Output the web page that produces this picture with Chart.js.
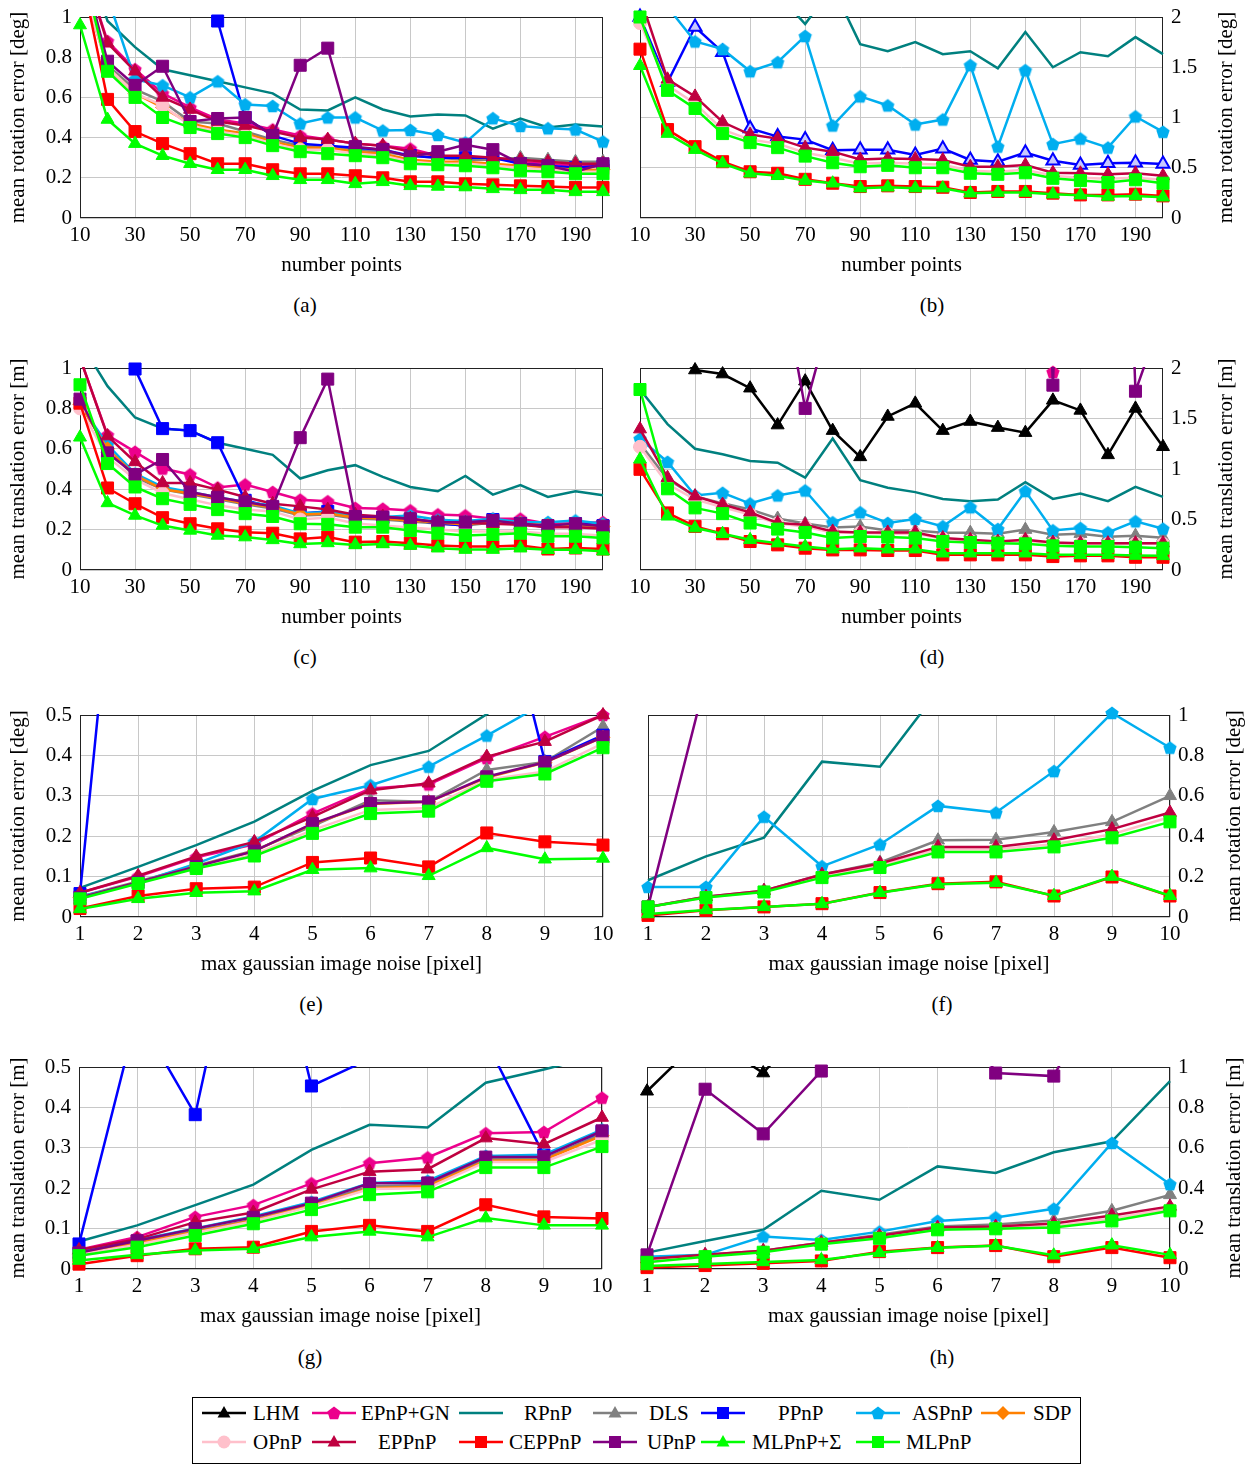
<!DOCTYPE html>
<html lang="en">
<head>
<meta charset="utf-8">
<script src="https://cdn.jsdelivr.net/npm/chart.js@4.4.1/dist/chart.umd.min.js"></script>
<style>
  body { margin: 0; background: #fff; width: 1247px; height: 1472px; position: relative; overflow: hidden;
         font-family: 'Liberation Serif', 'Times New Roman', serif; color: #000; }
  canvas { position: absolute; }
  .cap { position: absolute; font-size: 21px; transform: translate(-50%, -50%); white-space: nowrap; }
  #legend { position: absolute; left: 192px; top: 1397px; width: 887px; height: 65px; border: 1px solid #000; }
  .lg-txt { position: absolute; font-size: 21px; line-height: 24px; transform: translateY(-50%); white-space: nowrap; }
</style>
</head>
<body>
<div id="legend"></div>
<script>
    var FONT = "'Liberation Serif', 'Times New Roman', serif";

    // x values and tick labels
    var pointCounts = [10, 20, 30, 40, 50, 60, 70, 80, 90, 100, 110, 120, 130, 140, 150, 160, 170, 180, 190, 200];
    var noiseLevels = [1, 2, 3, 4, 5, 6, 7, 8, 9, 10];
    var pointTicks = [10, 30, 50, 70, 90, 110, 130, 150, 170, 190];
    var noiseTicks = [1, 2, 3, 4, 5, 6, 7, 8, 9, 10];
    var ticksTo1 = [0, 0.2, 0.4, 0.6, 0.8, 1];
    var ticksTo2 = [0, 0.5, 1, 1.5, 2];
    var ticksToHalf = [0, 0.1, 0.2, 0.3, 0.4, 0.5];

    var methodNames = ['LHM', 'EPnP+GN', 'RPnP', 'DLS', 'PPnP', 'ASPnP', 'SDP', 'OPnP', 'EPPnP', 'CEPPnP', 'UPnP', 'MLPnP+Σ', 'MLPnP'];
    var methodColors = ['#000000', '#ec008c', '#00807f', '#808080', '#0000ff', '#00aeef', '#ff8000', '#ffc0cb', '#bf0040', '#ff0000', '#800080', '#00ff00', '#00ff00'];
    var methodMarkers = ['triangle', 'pentagon', null, 'triangle', 'rect', 'pentagon', 'rectRot', 'circle', 'triangle', 'rect', 'rect', 'triangle', 'rect'];

    // (a) rotation error vs number of points
    var a_EPnPGN = [1.3, 0.88, 0.74, 0.62, 0.55, 0.49, 0.47, 0.44, 0.41, 0.39, 0.37, 0.36, 0.345, 0.31, 0.30, 0.30, 0.28, 0.27, 0.26, 0.26];
    var a_RPnP = [1.4, 0.98, 0.85, 0.74, 0.71, 0.68, 0.65, 0.62, 0.54, 0.535, 0.60, 0.54, 0.505, 0.515, 0.51, 0.445, 0.495, 0.45, 0.465, 0.455];
    var a_DLS = [1.25, 0.76, 0.64, 0.58, 0.48, 0.47, 0.43, 0.39, 0.36, 0.36, 0.34, 0.33, 0.31, 0.30, 0.29, 0.29, 0.30, 0.29, 0.28, 0.28];
    var a_PPnP = [2.2, 1.9, 1.6, 1.4, 1.2, 0.98, 0.50, 0.41, 0.37, 0.36, 0.35, 0.34, 0.31, 0.30, 0.30, 0.30, 0.27, 0.26, 0.25, 0.26];
    var a_ASPnP = [1.6, 1.1, 0.69, 0.66, 0.60, 0.68, 0.565, 0.557, 0.47, 0.50, 0.50, 0.435, 0.438, 0.413, 0.375, 0.496, 0.458, 0.446, 0.44, 0.38];
    var a_SDP = [1.2, 0.75, 0.62, 0.55, 0.47, 0.44, 0.42, 0.38, 0.35, 0.35, 0.33, 0.32, 0.29, 0.28, 0.28, 0.27, 0.26, 0.25, 0.24, 0.24];
    var a_OPnP = [1.2, 0.75, 0.62, 0.56, 0.46, 0.43, 0.41, 0.37, 0.34, 0.34, 0.32, 0.31, 0.28, 0.27, 0.27, 0.26, 0.25, 0.24, 0.23, 0.23];
    var a_EPPnP = [1.3, 0.87, 0.73, 0.60, 0.54, 0.48, 0.46, 0.43, 0.40, 0.39, 0.37, 0.36, 0.33, 0.31, 0.31, 0.30, 0.29, 0.28, 0.27, 0.27];
    var a_CEPPnP = [1.25, 0.59, 0.43, 0.37, 0.32, 0.27, 0.27, 0.24, 0.22, 0.22, 0.21, 0.20, 0.18, 0.18, 0.17, 0.165, 0.16, 0.157, 0.152, 0.152];
    var a_UPnP = [1.3, 0.78, 0.66, 0.755, 0.48, 0.495, 0.50, 0.41, 0.76, 0.845, 0.355, 0.34, 0.305, 0.33, 0.364, 0.34, 0.27, 0.26, 0.23, 0.27];
    var a_MLPnPS = [0.96, 0.49, 0.37, 0.31, 0.27, 0.24, 0.24, 0.21, 0.19, 0.19, 0.17, 0.18, 0.16, 0.157, 0.154, 0.145, 0.14, 0.14, 0.13, 0.13];
    var a_MLPnP = [1.3, 0.73, 0.60, 0.50, 0.45, 0.42, 0.40, 0.36, 0.33, 0.32, 0.31, 0.30, 0.27, 0.265, 0.26, 0.25, 0.235, 0.23, 0.22, 0.22];

    // (b) rotation error vs number of points, planar
    var b_RPnP = [2.6, 2.4, 2.3, 2.25, 2.2, 2.23, 1.93, 2.3, 1.73, 1.66, 1.75, 1.63, 1.66, 1.49, 1.85, 1.5, 1.65, 1.61, 1.8, 1.63];
    var b_PPnP = [2.0, 1.35, 1.9, 1.65, 0.89, 0.81, 0.78, 0.675, 0.68, 0.68, 0.626, 0.69, 0.577, 0.56, 0.65, 0.57, 0.527, 0.544, 0.55, 0.537];
    var b_ASPnP = [2.6, 2.1, 1.756, 1.68, 1.46, 1.55, 1.81, 0.92, 1.21, 1.12, 0.93, 0.98, 1.52, 0.71, 1.47, 0.735, 0.79, 0.70, 1.01, 0.857];
    var b_OPnP = [1.94, 1.32, 1.14, 0.88, 0.78, 0.74, 0.65, 0.60, 0.54, 0.55, 0.54, 0.53, 0.47, 0.46, 0.48, 0.42, 0.40, 0.39, 0.40, 0.38];
    var b_EPPnP = [2.2, 1.38, 1.21, 0.955, 0.83, 0.79, 0.70, 0.66, 0.583, 0.593, 0.587, 0.577, 0.51, 0.51, 0.527, 0.45, 0.445, 0.435, 0.445, 0.42];
    var b_CEPPnP = [1.68, 0.88, 0.71, 0.56, 0.46, 0.445, 0.385, 0.346, 0.313, 0.32, 0.313, 0.306, 0.254, 0.264, 0.264, 0.247, 0.23, 0.23, 0.237, 0.22];
    var b_MLPnPS = [1.515, 0.84, 0.68, 0.544, 0.445, 0.42, 0.372, 0.346, 0.297, 0.306, 0.297, 0.297, 0.247, 0.254, 0.254, 0.237, 0.227, 0.214, 0.22, 0.207];
    var b_MLPnP = [2.0, 1.27, 1.09, 0.84, 0.75, 0.70, 0.616, 0.55, 0.51, 0.524, 0.50, 0.50, 0.445, 0.435, 0.45, 0.395, 0.372, 0.353, 0.38, 0.346];

    // (c) translation error vs number of points
    var c_EPnPGN = [1.05, 0.668, 0.585, 0.502, 0.473, 0.408, 0.423, 0.386, 0.348, 0.34, 0.307, 0.303, 0.295, 0.275, 0.27, 0.254, 0.254, 0.229, 0.232, 0.237];
    var c_RPnP = [1.13, 0.91, 0.755, 0.70, 0.69, 0.63, 0.60, 0.57, 0.453, 0.494, 0.519, 0.461, 0.411, 0.39, 0.466, 0.373, 0.42, 0.362, 0.39, 0.37];
    var c_DLS = [0.82, 0.60, 0.46, 0.40, 0.375, 0.35, 0.325, 0.305, 0.27, 0.275, 0.255, 0.25, 0.24, 0.23, 0.22, 0.235, 0.225, 0.215, 0.22, 0.21];
    var c_PPnP = [2.0, 1.6, 0.995, 0.70, 0.69, 0.63, 0.345, 0.31, 0.28, 0.29, 0.26, 0.26, 0.25, 0.23, 0.22, 0.25, 0.23, 0.21, 0.23, 0.22];
    var c_ASPnP = [0.82, 0.62, 0.477, 0.411, 0.386, 0.36, 0.337, 0.32, 0.28, 0.287, 0.27, 0.262, 0.27, 0.249, 0.242, 0.254, 0.237, 0.237, 0.245, 0.229];
    var c_SDP = [0.82, 0.60, 0.47, 0.40, 0.38, 0.355, 0.33, 0.31, 0.275, 0.28, 0.26, 0.255, 0.245, 0.235, 0.225, 0.24, 0.23, 0.22, 0.225, 0.215];
    var c_OPnP = [0.80, 0.56, 0.45, 0.38, 0.35, 0.32, 0.30, 0.29, 0.25, 0.26, 0.23, 0.22, 0.21, 0.20, 0.19, 0.19, 0.19, 0.18, 0.18, 0.17];
    var c_EPPnP = [1.05, 0.663, 0.535, 0.431, 0.431, 0.398, 0.361, 0.328, 0.315, 0.299, 0.274, 0.265, 0.254, 0.237, 0.234, 0.229, 0.224, 0.212, 0.212, 0.204];
    var c_CEPPnP = [0.826, 0.406, 0.328, 0.259, 0.229, 0.204, 0.187, 0.182, 0.154, 0.163, 0.138, 0.141, 0.133, 0.121, 0.116, 0.116, 0.121, 0.104, 0.109, 0.104];
    var c_UPnP = [0.846, 0.58, 0.473, 0.547, 0.386, 0.36, 0.337, 0.315, 0.655, 0.945, 0.265, 0.262, 0.254, 0.237, 0.237, 0.245, 0.229, 0.22, 0.229, 0.217];
    var c_MLPnPS = [0.657, 0.332, 0.27, 0.22, 0.196, 0.171, 0.163, 0.149, 0.129, 0.134, 0.124, 0.129, 0.121, 0.108, 0.101, 0.101, 0.108, 0.10, 0.10, 0.093];
    var c_MLPnP = [0.917, 0.527, 0.411, 0.353, 0.325, 0.299, 0.279, 0.265, 0.229, 0.226, 0.212, 0.212, 0.196, 0.182, 0.171, 0.176, 0.182, 0.167, 0.167, 0.159];

    // (d) translation error vs number of points, planar
    var d_LHM = [2.5, 2.2, 1.98, 1.94, 1.80, 1.435, 1.87, 1.38, 1.12, 1.52, 1.65, 1.38, 1.47, 1.41, 1.36, 1.68, 1.58, 1.14, 1.60, 1.22];
    var d_EPnPGN = [9, 9, 9, 9, 9, 9, 9, 9, 9, 9, 9, 9, 9, 9, 9, 1.96, 9, 9, 9, 9];
    var d_RPnP = [1.787, 1.445, 1.20, 1.146, 1.08, 1.063, 0.914, 1.302, 0.89, 0.814, 0.771, 0.704, 0.681, 0.698, 0.87, 0.704, 0.757, 0.681, 0.824, 0.724];
    var d_DLS = [1.25, 0.90, 0.73, 0.66, 0.60, 0.51, 0.46, 0.42, 0.43, 0.39, 0.39, 0.37, 0.37, 0.36, 0.40, 0.35, 0.36, 0.33, 0.34, 0.32];
    var d_ASPnP = [1.30, 1.07, 0.738, 0.764, 0.658, 0.738, 0.787, 0.472, 0.571, 0.465, 0.505, 0.432, 0.621, 0.405, 0.781, 0.392, 0.415, 0.372, 0.482, 0.409];
    var d_OPnP = [1.22, 0.85, 0.70, 0.62, 0.55, 0.46, 0.43, 0.37, 0.37, 0.36, 0.36, 0.31, 0.29, 0.28, 0.29, 0.265, 0.26, 0.26, 0.26, 0.26];
    var d_EPPnP = [1.395, 0.914, 0.731, 0.648, 0.571, 0.465, 0.449, 0.382, 0.372, 0.372, 0.372, 0.316, 0.299, 0.282, 0.299, 0.272, 0.266, 0.266, 0.266, 0.266];
    var d_CEPPnP = [0.997, 0.565, 0.432, 0.359, 0.282, 0.249, 0.216, 0.199, 0.199, 0.193, 0.193, 0.15, 0.15, 0.15, 0.15, 0.133, 0.14, 0.14, 0.126, 0.126];
    var d_UPnP = [4, 4, 4, 4, 4, 3.1, 1.6, 2.6, 4, 4, 4, 4, 4, 4, 9, 1.83, 9, 9, 1.77, 2.54];
    var d_MLPnPS = [1.096, 0.532, 0.415, 0.359, 0.299, 0.266, 0.233, 0.206, 0.216, 0.206, 0.206, 0.166, 0.166, 0.166, 0.166, 0.15, 0.15, 0.15, 0.143, 0.14];
    var d_MLPnP = [1.787, 0.804, 0.615, 0.558, 0.465, 0.405, 0.372, 0.316, 0.332, 0.326, 0.316, 0.282, 0.272, 0.266, 0.259, 0.239, 0.233, 0.233, 0.226, 0.216];

    // (e) rotation error vs image noise
    var e_EPnPGN = [0.06, 0.10, 0.148, 0.18, 0.256, 0.318, 0.328, 0.393, 0.446, 0.50];
    var e_RPnP = [0.072, 0.124, 0.178, 0.236, 0.312, 0.376, 0.411, 0.502, 0.6, 0.7];
    var e_DLS = [0.05, 0.088, 0.127, 0.165, 0.225, 0.289, 0.285, 0.364, 0.384, 0.471];
    var e_PPnP = [0.058, 1.5, 1.2, 1.1, 1.0, 1.0, 1.0, 0.96, 0.385, 0.45];
    var e_ASPnP = [0.05, 0.085, 0.132, 0.186, 0.292, 0.326, 0.372, 0.449, 0.53, 0.56];
    var e_SDP = [0.048, 0.086, 0.125, 0.163, 0.23, 0.28, 0.285, 0.345, 0.382, 0.445];
    var e_OPnP = [0.046, 0.084, 0.122, 0.155, 0.215, 0.265, 0.27, 0.34, 0.36, 0.43];
    var e_EPPnP = [0.06, 0.102, 0.15, 0.186, 0.248, 0.314, 0.331, 0.397, 0.434, 0.50];
    var e_CEPPnP = [0.021, 0.052, 0.07, 0.074, 0.135, 0.146, 0.124, 0.208, 0.186, 0.178];
    var e_UPnP = [0.048, 0.086, 0.125, 0.163, 0.231, 0.281, 0.285, 0.347, 0.383, 0.446];
    var e_MLPnPS = [0.02, 0.045, 0.06, 0.064, 0.117, 0.121, 0.102, 0.171, 0.143, 0.145];
    var e_MLPnP = [0.045, 0.083, 0.12, 0.151, 0.207, 0.256, 0.262, 0.336, 0.354, 0.419];

    // (f) rotation error vs image noise, planar
    var f_RPnP = [0.182, 0.30, 0.393, 0.769, 0.744, 1.12, 1.3, 1.4, 1.5, 1.6];
    var f_DLS = [0.05, 0.10, 0.13, 0.21, 0.27, 0.38, 0.383, 0.421, 0.471, 0.60];
    var f_ASPnP = [0.149, 0.149, 0.496, 0.251, 0.359, 0.55, 0.517, 0.722, 1.01, 0.838];
    var f_OPnP = [0.05, 0.097, 0.126, 0.20, 0.255, 0.335, 0.335, 0.36, 0.41, 0.495];
    var f_EPPnP = [0.05, 0.10, 0.13, 0.21, 0.265, 0.347, 0.347, 0.38, 0.435, 0.517];
    var f_CEPPnP = [0.008, 0.033, 0.05, 0.066, 0.121, 0.165, 0.174, 0.104, 0.198, 0.104];
    var f_UPnP = [0.05, 1.18, 1.5, 1.5, 1.5, 1.5, 1.5, 1.5, 1.5, 1.5];
    var f_MLPnPS = [0.015, 0.035, 0.05, 0.065, 0.12, 0.162, 0.17, 0.105, 0.20, 0.105];
    var f_MLPnP = [0.05, 0.096, 0.124, 0.195, 0.245, 0.322, 0.322, 0.347, 0.392, 0.471];

    // (g) translation error vs image noise
    var g_EPnPGN = [0.048, 0.079, 0.129, 0.158, 0.212, 0.262, 0.276, 0.336, 0.339, 0.424];
    var g_RPnP = [0.068, 0.108, 0.158, 0.209, 0.295, 0.357, 0.35, 0.461, 0.494, 0.53];
    var g_DLS = [0.038, 0.066, 0.095, 0.122, 0.16, 0.205, 0.208, 0.272, 0.272, 0.335];
    var g_PPnP = [0.062, 0.63, 0.382, 1.04, 0.453, 0.52, 0.60, 0.565, 0.282, 0.34];
    var g_ASPnP = [0.042, 0.072, 0.10, 0.13, 0.166, 0.213, 0.218, 0.28, 0.283, 0.345];
    var g_SDP = [0.037, 0.064, 0.092, 0.12, 0.157, 0.20, 0.205, 0.268, 0.27, 0.33];
    var g_OPnP = [0.036, 0.06, 0.09, 0.118, 0.155, 0.198, 0.20, 0.265, 0.265, 0.32];
    var g_EPPnP = [0.047, 0.074, 0.116, 0.14, 0.197, 0.241, 0.247, 0.324, 0.309, 0.375];
    var g_CEPPnP = [0.012, 0.033, 0.05, 0.054, 0.093, 0.108, 0.093, 0.159, 0.129, 0.125];
    var g_UPnP = [0.04, 0.07, 0.10, 0.128, 0.163, 0.212, 0.213, 0.277, 0.278, 0.342];
    var g_MLPnPS = [0.021, 0.035, 0.046, 0.05, 0.079, 0.093, 0.079, 0.126, 0.108, 0.108];
    var g_MLPnP = [0.033, 0.054, 0.083, 0.112, 0.147, 0.184, 0.191, 0.251, 0.251, 0.303];

    // (h) translation error vs image noise, planar
    var h_LHM = [0.88, 1.16, 0.97, 1.3, 1.5, 1.5, 1.5, 1.5, 1.5, 1.5];
    var h_RPnP = [0.081, 0.139, 0.194, 0.387, 0.343, 0.508, 0.475, 0.578, 0.632, 0.93];
    var h_DLS = [0.05, 0.07, 0.09, 0.13, 0.17, 0.21, 0.22, 0.24, 0.288, 0.367];
    var h_ASPnP = [0.061, 0.07, 0.161, 0.144, 0.185, 0.238, 0.255, 0.298, 0.624, 0.42];
    var h_OPnP = [0.045, 0.065, 0.087, 0.127, 0.158, 0.20, 0.204, 0.212, 0.25, 0.298];
    var h_EPPnP = [0.05, 0.07, 0.09, 0.13, 0.165, 0.205, 0.21, 0.225, 0.265, 0.31];
    var h_CEPPnP = [0.007, 0.017, 0.028, 0.04, 0.086, 0.106, 0.116, 0.061, 0.106, 0.056];
    var h_UPnP = [0.07, 0.89, 0.669, 0.98, 1.5, 1.5, 0.97, 0.955, 1.5, 1.5];
    var h_MLPnPS = [0.015, 0.025, 0.035, 0.045, 0.08, 0.105, 0.115, 0.068, 0.118, 0.07];
    var h_MLPnP = [0.033, 0.061, 0.083, 0.123, 0.152, 0.194, 0.199, 0.205, 0.238, 0.288];

    var rotTitle = 'mean rotation error [deg]';
    var transTitle = 'mean translation error [m]';

    // box = [plotLeft, plotTop, plotRight, plotBottom] in page pixels
    var panels = [
        { box: [80, 17, 603, 218], side: 'left', x: pointCounts, xTicks: pointTicks, yTicks: ticksTo1, xTitle: 'number points', yTitle: rotTitle, titleX: 18, cap: ['(a)', 305, 305],
          series: { 'EPnP+GN': a_EPnPGN, 'RPnP': a_RPnP, 'DLS': a_DLS, 'PPnP': a_PPnP, 'ASPnP': a_ASPnP, 'SDP': a_SDP, 'OPnP': a_OPnP, 'EPPnP': a_EPPnP, 'CEPPnP': a_CEPPnP, 'UPnP': a_UPnP, 'MLPnP+Σ': a_MLPnPS, 'MLPnP': a_MLPnP } },
        { box: [640, 17, 1163, 218], side: 'right', x: pointCounts, xTicks: pointTicks, yTicks: ticksTo2, xTitle: 'number points', yTitle: rotTitle, titleX: 1226, cap: ['(b)', 932, 305],
          markerOverride: { 'PPnP': 'triangle' },
          series: { 'RPnP': b_RPnP, 'PPnP': b_PPnP, 'ASPnP': b_ASPnP, 'OPnP': b_OPnP, 'EPPnP': b_EPPnP, 'CEPPnP': b_CEPPnP, 'MLPnP+Σ': b_MLPnPS, 'MLPnP': b_MLPnP } },
        { box: [80, 368, 603, 570], side: 'left', x: pointCounts, xTicks: pointTicks, yTicks: ticksTo1, xTitle: 'number points', yTitle: transTitle, titleX: 18, cap: ['(c)', 305, 657],
          series: { 'EPnP+GN': c_EPnPGN, 'RPnP': c_RPnP, 'DLS': c_DLS, 'PPnP': c_PPnP, 'ASPnP': c_ASPnP, 'SDP': c_SDP, 'OPnP': c_OPnP, 'EPPnP': c_EPPnP, 'CEPPnP': c_CEPPnP, 'UPnP': c_UPnP, 'MLPnP+Σ': c_MLPnPS, 'MLPnP': c_MLPnP } },
        { box: [640, 368, 1163, 570], side: 'right', x: pointCounts, xTicks: pointTicks, yTicks: ticksTo2, xTitle: 'number points', yTitle: transTitle, titleX: 1226, cap: ['(d)', 932, 657],
          series: { 'LHM': d_LHM, 'EPnP+GN': d_EPnPGN, 'RPnP': d_RPnP, 'DLS': d_DLS, 'ASPnP': d_ASPnP, 'OPnP': d_OPnP, 'EPPnP': d_EPPnP, 'CEPPnP': d_CEPPnP, 'UPnP': d_UPnP, 'MLPnP+Σ': d_MLPnPS, 'MLPnP': d_MLPnP } },
        { box: [80, 715, 603, 917], side: 'left', x: noiseLevels, xTicks: noiseTicks, yTicks: ticksToHalf, xTitle: 'max gaussian image noise [pixel]', yTitle: rotTitle, titleX: 18, cap: ['(e)', 311, 1004],
          series: { 'EPnP+GN': e_EPnPGN, 'RPnP': e_RPnP, 'DLS': e_DLS, 'PPnP': e_PPnP, 'ASPnP': e_ASPnP, 'SDP': e_SDP, 'OPnP': e_OPnP, 'EPPnP': e_EPPnP, 'CEPPnP': e_CEPPnP, 'UPnP': e_UPnP, 'MLPnP+Σ': e_MLPnPS, 'MLPnP': e_MLPnP } },
        { box: [648, 715, 1170, 917], side: 'right', x: noiseLevels, xTicks: noiseTicks, yTicks: ticksTo1, xTitle: 'max gaussian image noise [pixel]', yTitle: rotTitle, titleX: 1234, cap: ['(f)', 942, 1004],
          series: { 'RPnP': f_RPnP, 'DLS': f_DLS, 'ASPnP': f_ASPnP, 'OPnP': f_OPnP, 'EPPnP': f_EPPnP, 'CEPPnP': f_CEPPnP, 'UPnP': f_UPnP, 'MLPnP+Σ': f_MLPnPS, 'MLPnP': f_MLPnP } },
        { box: [79, 1067, 602, 1269], side: 'left', x: noiseLevels, xTicks: noiseTicks, yTicks: ticksToHalf, xTitle: 'max gaussian image noise [pixel]', yTitle: transTitle, titleX: 18, cap: ['(g)', 310, 1357],
          series: { 'EPnP+GN': g_EPnPGN, 'RPnP': g_RPnP, 'DLS': g_DLS, 'PPnP': g_PPnP, 'ASPnP': g_ASPnP, 'SDP': g_SDP, 'OPnP': g_OPnP, 'EPPnP': g_EPPnP, 'CEPPnP': g_CEPPnP, 'UPnP': g_UPnP, 'MLPnP+Σ': g_MLPnPS, 'MLPnP': g_MLPnP } },
        { box: [647, 1067, 1170, 1269], side: 'right', x: noiseLevels, xTicks: noiseTicks, yTicks: ticksTo1, xTitle: 'max gaussian image noise [pixel]', yTitle: transTitle, titleX: 1234, cap: ['(h)', 942, 1357],
          series: { 'LHM': h_LHM, 'RPnP': h_RPnP, 'DLS': h_DLS, 'ASPnP': h_ASPnP, 'OPnP': h_OPnP, 'EPPnP': h_EPPnP, 'CEPPnP': h_CEPPnP, 'UPnP': h_UPnP, 'MLPnP+Σ': h_MLPnPS, 'MLPnP': h_MLPnP } }
    ];

    var markerRadius = { triangle: 7.5, pentagon: 7, rect: 8.5, rectRot: 7, circle: 6.5 };

    // pentagons are not a built-in point style, so make little images
    function pentagonImage(color, r) {
        var c = document.createElement('canvas');
        var s = Math.ceil(2 * r + 2);
        c.width = s; c.height = s;
        var g = c.getContext('2d');
        g.beginPath();
        for (var k = 0; k < 5; k++) {
            var ang = -Math.PI / 2 + k * 2 * Math.PI / 5;
            var px = s / 2 + r * Math.cos(ang), py = s / 2 + 0.6 + r * Math.sin(ang);
            if (k === 0) g.moveTo(px, py); else g.lineTo(px, py);
        }
        g.closePath();
        g.fillStyle = color;
        g.fill();
        return c;
    }

    function pointStyleFor(marker, color) {
        return marker === 'pentagon' ? pentagonImage(color, markerRadius.pentagon) : marker;
    }

    var framePlugin = {
        id: 'frame',
        beforeDatasetsDraw: function (chart) {
            var a = chart.chartArea, ctx = chart.ctx;
            ctx.save();
            ctx.strokeStyle = '#222';
            ctx.lineWidth = 1;
            ctx.strokeRect(Math.round(a.left) + 0.5, Math.round(a.top) + 0.5, Math.round(a.right - a.left) - 1, Math.round(a.bottom - a.top) - 1);
            ctx.restore();
        }
    };

    // y titles read bottom-to-top on both sides, so they are drawn here
    var yTitlePlugin = {
        id: 'yTitle',
        afterDraw: function (chart, args, opts) {
            var a = chart.chartArea, ctx = chart.ctx;
            ctx.save();
            ctx.translate(opts.x, (a.top + a.bottom) / 2);
            ctx.rotate(-Math.PI / 2);
            ctx.font = '21px ' + FONT;
            ctx.fillStyle = '#000';
            ctx.textAlign = 'center';
            ctx.textBaseline = 'middle';
            ctx.fillText(opts.text, 0, 0);
            ctx.restore();
        }
    };

    var N = methodNames.length;

    panels.forEach(function (p) {
        var left = p.side === 'left' ? 0 : 620;
        var width = p.side === 'left' ? 620 : 627;
        var padTop = 22, xAxisH = 60;
        var top = p.box[1] - padTop;
        var height = padTop + (p.box[3] - p.box[1]) + xAxisH;
        var yAxisW = p.side === 'left' ? p.box[0] - left : left + width - p.box[2];
        var yMax = p.yTicks[p.yTicks.length - 1];

        var cv = document.createElement('canvas');
        cv.width = width; cv.height = height;
        cv.style.left = left + 'px'; cv.style.top = top + 'px';
        cv.style.width = width + 'px'; cv.style.height = height + 'px';
        document.body.appendChild(cv);

        var datasets = [];
        methodNames.forEach(function (m, i) {
            var vals = p.series[m];
            if (!vals) return;
            var color = methodColors[i];
            var pts = p.x.map(function (xv, k) { return { x: xv, y: vals[k] }; });
            datasets.push({
                label: m, data: pts, borderColor: color, backgroundColor: color, borderWidth: 2.5,
                pointRadius: 0, tension: 0, order: 2 * (N - i) + 1, clip: 1
            });
            var marker = (p.markerOverride && p.markerOverride[m]) || methodMarkers[i];
            if (!marker) return;
            var hollow = p.markerOverride && p.markerOverride[m];
            datasets.push({
                label: m + ' marks',
                data: pts.filter(function (pt) { return pt.y != null && pt.y <= yMax * 1.02; }),
                showLine: false,
                pointStyle: pointStyleFor(marker, color),
                pointRadius: markerRadius[marker],
                pointBackgroundColor: hollow ? '#c8c8ff' : color,
                pointBorderColor: color,
                pointBorderWidth: hollow ? 2 : 1,
                order: 2 * (N - i),
                clip: false
            });
        });

        var tickFont = { family: FONT, size: 21 };
        new Chart(cv.getContext('2d'), {
            type: 'line',
            data: { datasets: datasets },
            plugins: [framePlugin, yTitlePlugin],
            options: {
                responsive: false,
                animation: false,
                devicePixelRatio: 1,
                events: [],
                layout: { padding: { top: padTop, bottom: 0, left: p.side === 'left' ? 0 : p.box[0] - left, right: p.side === 'left' ? left + width - p.box[2] : 0 } },
                plugins: {
                    legend: { display: false },
                    tooltip: { enabled: false },
                    yTitle: { x: p.titleX - left, text: p.yTitle }
                },
                scales: {
                    x: {
                        type: 'linear',
                        min: p.x[0], max: p.x[p.x.length - 1],
                        afterBuildTicks: function (s) { s.ticks = p.xTicks.map(function (v) { return { value: v }; }); },
                        afterFit: function (s) { s.height = xAxisH; },
                        grid: { color: '#c8c8c8', lineWidth: 1, drawTicks: false },
                        border: { display: false },
                        ticks: { color: '#000', font: tickFont, padding: 5, maxRotation: 0, autoSkip: false, callback: function (v) { return String(v); } },
                        title: { display: true, text: p.xTitle, color: '#000', font: tickFont, padding: { top: 0, bottom: 0 } }
                    },
                    y: {
                        type: 'linear',
                        position: p.side,
                        min: 0, max: yMax,
                        afterBuildTicks: function (s) { s.ticks = p.yTicks.map(function (v) { return { value: v }; }); },
                        afterFit: function (s) { s.width = yAxisW; },
                        grid: { color: '#c8c8c8', lineWidth: 1, drawTicks: false },
                        border: { display: false },
                        ticks: { color: '#000', font: tickFont, padding: 8, callback: function (v) { return String(v); } }
                    }
                }
            }
        });

        var cap = document.createElement('div');
        cap.className = 'cap';
        cap.textContent = p.cap[0];
        cap.style.left = p.cap[1] + 'px';
        cap.style.top = p.cap[2] + 'px';
        document.body.appendChild(cap);
    });

    // legend, laid out like the pgfplots table: sample column x, label x, row
    var legendSampleX = [201, 311, 458, 592, 700, 855, 980, 201, 311, 458, 592, 700, 855];
    var legendTextX = [253, 361, 524, 649, 778, 912, 1033, 253, 378, 509, 647, 752, 906];
    var legendRowY = [1413, 1442];
    var legendBox = document.getElementById('legend');
    methodNames.forEach(function (m, i) {
        var row = i < 7 ? 0 : 1;
        var ic = document.createElement('canvas');
        ic.width = 46; ic.height = 22;
        ic.style.left = (legendSampleX[i] - 193) + 'px';
        ic.style.top = (legendRowY[row] - 11 - 1398) + 'px';
        legendBox.appendChild(ic);
        var g = ic.getContext('2d');
        var color = methodColors[i];
        g.strokeStyle = color; g.fillStyle = color; g.lineWidth = 2.5;
        g.beginPath(); g.moveTo(1, 11); g.lineTo(45, 11); g.stroke();
        var mk = methodMarkers[i];
        var cx = 23, cy = 11;
        if (mk === 'rect') { g.fillRect(cx - 6, cy - 6, 12, 12); }
        else if (mk === 'triangle') { g.beginPath(); g.moveTo(cx, cy - 7); g.lineTo(cx + 6.5, cy + 4.5); g.lineTo(cx - 6.5, cy + 4.5); g.closePath(); g.fill(); }
        else if (mk === 'circle') { g.beginPath(); g.arc(cx, cy, 6.5, 0, 2 * Math.PI); g.fill(); }
        else if (mk === 'rectRot') { g.beginPath(); g.moveTo(cx, cy - 7); g.lineTo(cx + 7, cy); g.lineTo(cx, cy + 7); g.lineTo(cx - 7, cy); g.closePath(); g.fill(); }
        else if (mk === 'pentagon') { var img = pentagonImage(color, 7); g.drawImage(img, cx - img.width / 2, cy - img.height / 2); }

        var t = document.createElement('div');
        t.className = 'lg-txt';
        t.textContent = m;
        t.style.left = (legendTextX[i] - 193) + 'px';
        t.style.top = (legendRowY[row] - 1398) + 'px';
        legendBox.appendChild(t);
    });
</script>
</body>
</html>
